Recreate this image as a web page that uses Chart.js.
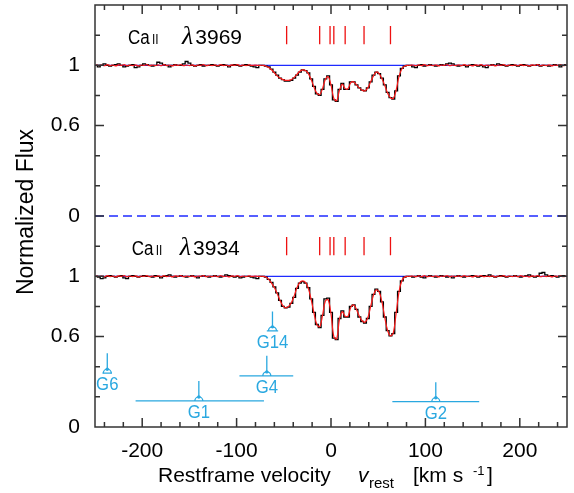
<!DOCTYPE html>
<html>
<head>
<meta charset="utf-8">
<script src="https://cdn.jsdelivr.net/npm/chart.js@4.4.1/dist/chart.umd.min.js"></script>
<style>
  html, body { margin: 0; padding: 0; background: #fff; }
  #wrap { width: 574px; height: 493px; }
</style>
</head>
<body>
<div id="wrap"><canvas id="myChart" width="574" height="493"></canvas></div>
<script>
// spectra are sampled on a regular velocity grid (km/s)
var velStart = -249;
var velStep = 3;
var topOffset = 1.4;   // Ca II 3969 panel is shifted up by this much

// observed flux, Ca II 3969 (top): blue wing, absorption core, red wing
var topWingL = [
  1.00, 0.99, 1.00, 1.01, 1.00, 0.995, 1.00, 1.005, 1.01, 1.00,
  0.99, 0.995, 1.00, 1.005, 0.985, 0.99, 1.00, 1.01, 1.005, 1.00,
  0.995, 1.00, 1.02, 1.015, 1.005, 1.00, 0.99, 1.00, 1.005, 1.00,
  1.00, 1.01, 1.025, 1.015, 1.00, 0.995, 1.00, 1.005, 0.995, 1.00,
  1.00, 1.005, 1.00, 0.995, 1.00, 1.005, 1.00, 0.99, 1.00, 1.005,
  1.00, 0.995, 1.00, 1.005, 1.00, 0.995, 0.99, 0.985, 1.00
];
var topCore = [
  1.00, 0.995, 0.99, 0.975, 0.955, 0.935, 0.915, 0.905, 0.895, 0.895,
  0.90, 0.915, 0.935, 0.955, 0.97, 0.965, 0.95, 0.91, 0.86, 0.81,
  0.80, 0.84, 0.91, 0.93, 0.87, 0.77, 0.76, 0.84, 0.88, 0.84,
  0.84, 0.89, 0.89, 0.87, 0.85, 0.835, 0.83, 0.85, 0.89, 0.935,
  0.955, 0.945, 0.915, 0.87, 0.82, 0.785, 0.775, 0.83, 0.93, 0.98,
  0.995, 1.00
];
var topWingR = [
  1.00, 0.99, 0.985, 1.00, 1.005, 0.995, 1.00, 1.005, 1.00, 0.995,
  1.00, 1.005, 1.00, 1.01, 1.015, 1.01, 1.00, 0.995, 1.00, 1.00,
  0.99, 1.00, 1.005, 1.00, 0.995, 1.00, 0.99, 0.985, 1.00, 1.005,
  1.00, 1.01, 1.005, 1.00, 0.995, 1.00, 1.005, 1.00, 0.995, 1.00,
  1.005, 1.00, 0.995, 1.00, 1.00, 1.005, 0.995, 1.00, 1.00, 0.995,
  1.00, 1.005, 1.00, 0.99, 1.00, 1.005
];

// observed flux, Ca II 3934 (bottom)
var lowWingL = [
  1.00, 0.995, 0.985, 0.99, 1.00, 1.005, 1.00, 0.995, 1.00, 1.005,
  0.99, 0.985, 1.00, 1.005, 1.00, 0.995, 1.00, 1.005, 1.00, 1.00,
  0.995, 1.005, 1.00, 0.99, 1.00, 1.005, 1.01, 1.00, 0.995, 1.00,
  1.005, 1.00, 0.995, 1.00, 1.005, 1.00, 0.99, 1.00, 1.005, 1.00,
  0.995, 1.00, 1.005, 1.00, 0.995, 1.00, 1.01, 1.005, 1.00, 0.995,
  1.00, 0.99, 0.995, 1.00, 1.00, 0.995, 0.99, 0.985, 1.00
];
var lowCore = [
  1.00, 0.995, 0.98, 0.96, 0.93, 0.89, 0.84, 0.80, 0.79, 0.795,
  0.82, 0.86, 0.92, 0.955, 0.965, 0.955, 0.925, 0.85, 0.76, 0.68,
  0.66, 0.74, 0.85, 0.855, 0.76, 0.59, 0.58, 0.72, 0.77, 0.73,
  0.73, 0.80, 0.81, 0.78, 0.73, 0.70, 0.69, 0.72, 0.80, 0.88,
  0.915, 0.90, 0.83, 0.73, 0.64, 0.605, 0.62, 0.76, 0.90, 0.97,
  0.995, 1.00
];
var lowWingR = [
  1.00, 0.995, 1.00, 1.005, 0.995, 0.99, 1.00, 1.005, 1.00, 0.995,
  1.00, 1.005, 1.00, 0.995, 1.00, 0.99, 1.00, 1.005, 1.00, 0.995,
  1.00, 1.00, 1.005, 1.00, 0.995, 1.00, 1.005, 1.00, 1.01, 1.00,
  0.995, 1.00, 1.005, 1.00, 0.995, 1.00, 1.00, 1.005, 1.00, 0.995,
  1.00, 1.005, 1.01, 1.00, 0.995, 1.00, 1.02, 1.025, 1.01, 1.00,
  1.005, 1.00, 0.995, 1.00, 1.005, 1.00
];

// fitted model (red), wings are shared by both lines
var modelWingL = [
  1.003, 0.998, 1.002, 0.997, 1.004, 0.998, 1.002, 0.996, 1.003, 0.999,
  1.004, 0.997, 1.002, 0.998, 1.003, 0.996, 1.002, 0.999, 1.004, 0.997,
  1.002, 0.998, 1.003, 0.997, 1.004, 0.998, 1.002, 0.996, 1.003, 0.999,
  1.004, 0.997, 1.002, 0.998, 1.003, 0.996, 1.002, 0.999, 1.004, 0.997,
  1.002, 0.998, 1.003, 0.997, 1.004, 0.998, 1.002, 0.996, 1.003, 0.999,
  1.004, 0.997, 1.002, 0.998, 1.003, 0.999, 1.001, 1.00, 1.00
];
var modelWingR = [
  1.00, 1.002, 0.997, 1.003, 0.998, 1.004, 0.997, 1.002, 0.998, 1.003,
  0.996, 1.002, 0.999, 1.004, 0.997, 1.002, 0.998, 1.003, 0.997, 1.004,
  0.998, 1.002, 0.996, 1.003, 0.999, 1.004, 0.997, 1.002, 0.998, 1.003,
  0.996, 1.002, 0.999, 1.004, 0.997, 1.002, 0.998, 1.003, 0.997, 1.004,
  0.998, 1.002, 0.996, 1.003, 0.999, 1.004, 0.997, 1.002, 0.998, 1.003,
  0.996, 1.002, 0.999, 1.004, 0.997, 1.002
];
var topModelCore = [
  1.00, 0.995, 0.985, 0.97, 0.95, 0.93, 0.915, 0.905, 0.90, 0.90,
  0.905, 0.92, 0.94, 0.96, 0.97, 0.965, 0.945, 0.905, 0.855, 0.815,
  0.805, 0.845, 0.905, 0.925, 0.87, 0.78, 0.765, 0.835, 0.875, 0.845,
  0.845, 0.885, 0.89, 0.87, 0.85, 0.835, 0.83, 0.85, 0.89, 0.93,
  0.955, 0.945, 0.91, 0.865, 0.815, 0.785, 0.78, 0.835, 0.925, 0.975,
  0.995, 1.00
];
var lowModelCore = [
  1.00, 0.995, 0.98, 0.955, 0.925, 0.885, 0.84, 0.805, 0.79, 0.80,
  0.825, 0.87, 0.925, 0.96, 0.97, 0.96, 0.92, 0.845, 0.755, 0.68,
  0.665, 0.74, 0.835, 0.845, 0.75, 0.60, 0.585, 0.715, 0.765, 0.735,
  0.735, 0.795, 0.81, 0.78, 0.735, 0.705, 0.695, 0.725, 0.80, 0.875,
  0.91, 0.895, 0.83, 0.725, 0.64, 0.605, 0.625, 0.755, 0.895, 0.97,
  0.995, 1.00
];

// velocity components (red tick marks)
var compVel = [-47, -12, -1, 3, 15, 35, 63];
var compLo = 1.14;
var compHi = 1.26;

// galaxies (blue markers): velocity, velocity range, marker base & stem top
var galNames = ['G6', 'G14', 'G4', 'G1', 'G2'];
var galVel   = [-237, -62, -68, -140, 111];
var galLo    = [-242, -68, -97, -207, 65];
var galHi    = [-232, -56, -40, -71, 157];
var galBase  = [0.357, 0.638, 0.339, 0.173, 0.168];
var galTop   = [0.49, 0.766, 0.472, 0.306, 0.297];

// axis ticks
var xTickVals = [-200, -100, 0, 100, 200];
var yTickVals = [0, 0.6, 1, 1.4, 2.0, 2.4];
var yTickText = ['0', '0.6', '1', '0', '0.6', '1'];

var galColor = '#2aa8e0';
var sans = '"Liberation Sans", Arial, sans-serif';

function toPoints(flux, off) {
  return flux.map(function (f, i) { return {x: velStart + i * velStep, y: f + off}; });
}
function compPoints(off) {
  var pts = [];
  compVel.forEach(function (v) {
    pts.push({x: v, y: compLo + off}, {x: v, y: compHi + off}, {x: v, y: null});
  });
  return pts;
}

var topData = topWingL.concat(topCore, topWingR);
var lowData = lowWingL.concat(lowCore, lowWingR);
var topModel = modelWingL.concat(topModelCore, modelWingR);
var lowModel = modelWingL.concat(lowModelCore, modelWingR);

// text squeezed horizontally (the figure's labels are in a narrow face)
function narrowText(ctx, txt, x, y, font, sx) {
  ctx.save();
  ctx.font = font;
  ctx.translate(x, y);
  ctx.scale(sx, 1);
  ctx.fillText(txt, 0, 0);
  var w = ctx.measureText(txt).width * sx;
  ctx.restore();
  return w;
}

var decor = {
  id: 'decor',
  afterDatasetsDraw: function (chart) {
    var ctx = chart.ctx, xs = chart.scales.x, ys = chart.scales.y;
    ctx.save();
    // galaxy markers
    ctx.strokeStyle = galColor;
    ctx.fillStyle = galColor;
    ctx.lineWidth = 1.3;
    for (var i = 0; i < galNames.length; i++) {
      var px = xs.getPixelForValue(galVel[i]);
      var pb = ys.getPixelForValue(galBase[i]);
      var pt = ys.getPixelForValue(galTop[i]);
      ctx.beginPath();
      ctx.moveTo(xs.getPixelForValue(galLo[i]), pb);
      ctx.lineTo(xs.getPixelForValue(galHi[i]), pb);
      ctx.moveTo(px, pt);
      ctx.lineTo(px, pb - 4);
      ctx.stroke();
      ctx.beginPath();
      ctx.arc(px, pb, 4, Math.PI, 2 * Math.PI);
      ctx.stroke();
      ctx.beginPath();
      ctx.arc(px, pb - 4, 1.7, 0, 2 * Math.PI);
      ctx.fill();
      ctx.textAlign = 'center';
      ctx.textBaseline = 'middle';
      ctx.font = '19px ' + sans;
      ctx.save();
      ctx.translate(px, pb + 12);
      ctx.scale(0.88, 1);
      ctx.fillText(galNames[i], 0, 0);
      ctx.restore();
    }
    // line labels
    ctx.fillStyle = '#000';
    ctx.textAlign = 'left';
    ctx.textBaseline = 'alphabetic';
    var labs = [{w: '3969', v: -215, y: 2.54, lam: 54}, {w: '3934', v: -211, y: 1.143, lam: 48}];
    labs.forEach(function (l) {
      var x0 = xs.getPixelForValue(l.v), y0 = ys.getPixelForValue(l.y);
      narrowText(ctx, 'Ca', x0, y0, '20px ' + sans, 0.85);
      narrowText(ctx, 'II', x0 + 24, y0, '14px ' + sans, 0.85);
      ctx.font = 'italic 26px "Liberation Serif", "DejaVu Serif", serif';
      ctx.fillText('\u03bb', x0 + l.lam, y0);
      var lw = ctx.measureText('\u03bb').width;
      ctx.font = '21px ' + sans;
      ctx.fillText(l.w, x0 + l.lam + lw + 2, y0);
    });
    ctx.restore();
  },
  afterDraw: function (chart) {
    var ctx = chart.ctx, a = chart.chartArea, xs = chart.scales.x, ys = chart.scales.y;
    ctx.save();
    ctx.strokeStyle = '#333';
    ctx.lineWidth = 1.5;
    ctx.strokeRect(a.left, a.top, a.right - a.left, a.bottom - a.top);
    ctx.beginPath();
    for (var v = -240; v <= 240; v += 20) {
      var len = xTickVals.indexOf(v) >= 0 ? 9 : 5;
      var p = xs.getPixelForValue(v);
      ctx.moveTo(p, a.bottom); ctx.lineTo(p, a.bottom - len);
      ctx.moveTo(p, a.top); ctx.lineTo(p, a.top + len);
    }
    for (var k = 1; k <= 13; k++) {
      var val = k * 0.2;
      var major = yTickVals.some(function (t) { return Math.abs(t - val) < 1e-6; });
      var ln = major ? 9 : 5;
      var q = ys.getPixelForValue(val);
      ctx.moveTo(a.left, q); ctx.lineTo(a.left + ln, q);
      ctx.moveTo(a.right, q); ctx.lineTo(a.right - ln, q);
    }
    ctx.stroke();

    // axis titles
    ctx.fillStyle = '#000';
    ctx.textAlign = 'left';
    ctx.textBaseline = 'alphabetic';
    ctx.font = '21px ' + sans;
    ctx.fillText('Restframe velocity', 158, 482);
    ctx.font = 'italic 21px ' + sans;
    ctx.fillText('v', 358, 482);
    ctx.font = '15px ' + sans;
    ctx.fillText('rest', 369, 488);
    ctx.font = '21px ' + sans;
    ctx.fillText('[km s', 413, 482);
    ctx.font = '13px ' + sans;
    ctx.fillText('-1', 473, 475);
    ctx.font = '21px ' + sans;
    ctx.fillText(']', 487, 482);

    ctx.translate(27, 212);
    ctx.rotate(-Math.PI / 2);
    ctx.textAlign = 'center';
    ctx.textBaseline = 'middle';
    ctx.font = '23px ' + sans;
    ctx.fillText('Normalized Flux', 0, 0);
    ctx.restore();
  }
};

Chart.defaults.font.family = sans;
Chart.defaults.font.size = 21;
Chart.defaults.color = '#000';

var ctx = document.getElementById('myChart');
var chart1 = new Chart(ctx, {
  type: 'line',
  data: {
    datasets: [{
      data: toPoints(topData, topOffset),
      borderColor: '#000', borderWidth: 1.3, stepped: 'middle', pointRadius: 0, order: 3
    }, {
      data: toPoints(lowData, 0),
      borderColor: '#000', borderWidth: 1.3, stepped: 'middle', pointRadius: 0, order: 3
    }, {
      data: toPoints(topModel, topOffset),
      borderColor: '#ff1a1a', borderWidth: 1.2, tension: 0.35, pointRadius: 0, order: 2
    }, {
      data: toPoints(lowModel, 0),
      borderColor: '#ff1a1a', borderWidth: 1.2, tension: 0.35, pointRadius: 0, order: 2
    }, {
      data: [{x: -250, y: 1 + topOffset}, {x: 250, y: 1 + topOffset}],
      borderColor: '#1f2bff', borderWidth: 1.3, pointRadius: 0, order: 5
    }, {
      data: [{x: -250, y: 1}, {x: 250, y: 1}],
      borderColor: '#1f2bff', borderWidth: 1.3, pointRadius: 0, order: 5
    }, {
      data: [{x: -250, y: topOffset}, {x: 250, y: topOffset}],
      borderColor: '#1f2bff', borderWidth: 1.4, borderDash: [9, 5], pointRadius: 0, order: 5
    }, {
      data: compPoints(topOffset),
      borderColor: '#ee1111', borderWidth: 1.3, pointRadius: 0, order: 1
    }, {
      data: compPoints(0),
      borderColor: '#ee1111', borderWidth: 1.3, pointRadius: 0, order: 1
    }]
  },
  options: {
    responsive: false,
    animation: false,
    devicePixelRatio: 1,
    layout: {padding: {left: 0, right: 7, top: 5, bottom: 0}},
    plugins: {legend: {display: false}, tooltip: {enabled: false}},
    scales: {
      x: {
        type: 'linear', min: -250, max: 250,
        grid: {display: false}, border: {display: false},
        ticks: {padding: 4, autoSkip: false, maxRotation: 0},
        afterBuildTicks: function (s) {
          s.ticks = xTickVals.map(function (v) { return {value: v}; });
        },
        afterFit: function (s) { s.height = 66; s.paddingLeft = 0; s.paddingRight = 0; }
      },
      y: {
        type: 'linear', min: 0, max: 2.8,
        grid: {display: false}, border: {display: false},
        ticks: {
          padding: 7, autoSkip: false,
          callback: function (v) {
            for (var i = 0; i < yTickVals.length; i++) {
              if (Math.abs(yTickVals[i] - v) < 1e-6) return yTickText[i];
            }
            return '';
          }
        },
        afterBuildTicks: function (s) {
          s.ticks = yTickVals.map(function (v) { return {value: v}; });
        },
        afterFit: function (s) { s.width = 95; s.paddingTop = 0; s.paddingBottom = 0; }
      }
    }
  },
  plugins: [decor]
});
</script>
</body>
</html>
